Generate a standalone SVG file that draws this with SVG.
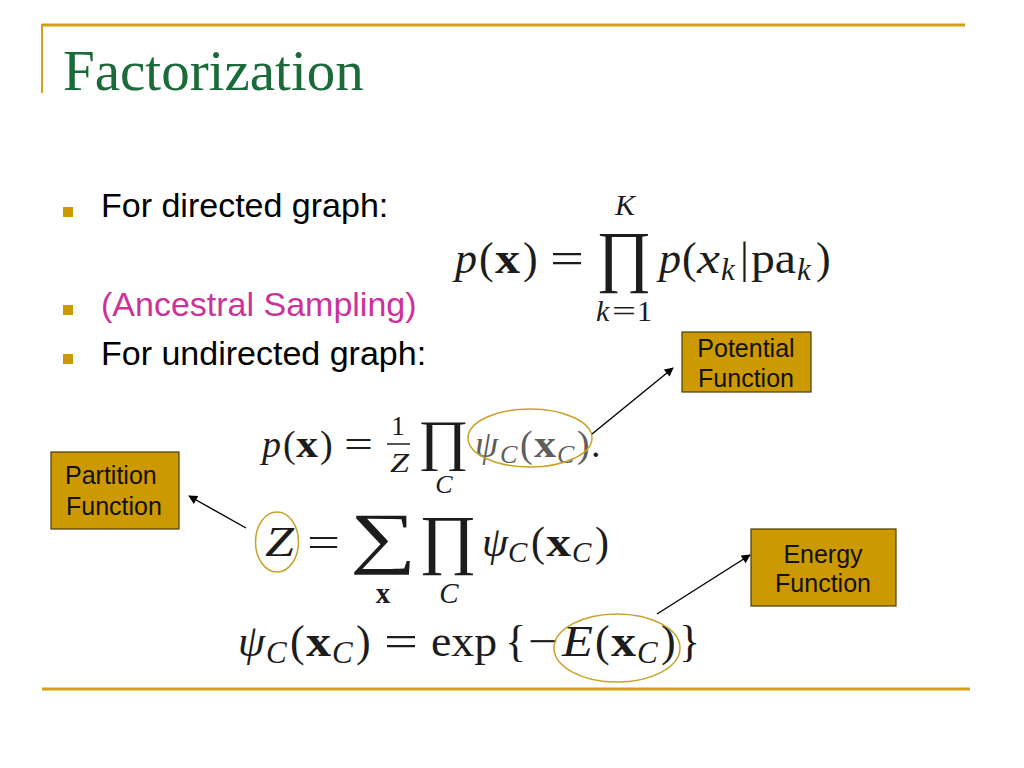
<svg xmlns="http://www.w3.org/2000/svg" width="1024" height="768" viewBox="0 0 1024 768">
<defs>
<style>
.rule{stroke:#D4A017;stroke-width:3;fill:none}
.bul{fill:#CC9900}
.btxt{font-family:"Liberation Sans",Arial,sans-serif;font-size:34px;fill:#000}
.pink{fill:#CC3399}
.box{fill:#CC9900;stroke:#4a3b00;stroke-width:1.2}
.lbl{font-family:"Liberation Sans",Arial,sans-serif;font-size:25px;fill:#111}
.m{font-family:"Liberation Serif","Times New Roman",serif;fill:#1c1c1c}
.i{font-style:italic}
.b{font-weight:bold}
.gray{fill:#5e5e5e}
.ring{fill:none;stroke:#C9A227;stroke-width:1.5}
.conn{stroke:#000;stroke-width:1.4;fill:none;marker-end:url(#ah)}
</style>
<marker id="ah" viewBox="0 0 10 10" refX="9" refY="5" markerWidth="10" markerHeight="9" orient="auto" markerUnits="userSpaceOnUse">
<path d="M0,0 L10,5 L0,10 z" fill="#000"/>
</marker>
</defs>
<rect width="1024" height="768" fill="#fff"/>

<g id="frame">
<line class="rule" x1="42" y1="25" x2="965" y2="25"/>
<line x1="42" y1="24" x2="42" y2="93" stroke="#D4A017" stroke-width="2"/>
<line class="rule" x1="42" y1="689" x2="970" y2="689"/>
</g>

<g id="title">
<text x="63" y="90" font-family="'Liberation Serif','Times New Roman',serif" font-size="57" fill="#1B6B3A">Factorization</text>
</g>

<g id="bullets">
<rect class="bul" x="63" y="207" width="10" height="10"/>
<text class="btxt" x="101" y="217">For directed graph:</text>
<rect class="bul" x="63" y="305" width="10" height="10"/>
<text class="btxt pink" x="101" y="316">(Ancestral Sampling)</text>
<rect class="bul" x="63" y="354" width="10" height="10"/>
<text class="btxt" x="101" y="365">For undirected graph:</text>
</g>

<g id="formula-directed">
<text class="m i" x="455" y="273" font-size="44">p</text>
<text class="m" x="479" y="273" font-size="44">(</text>
<text class="m b" x="495" y="273" font-size="44" textLength="25" lengthAdjust="spacingAndGlyphs">x</text>
<text class="m" x="523" y="273" font-size="44">)</text>
<text class="m" x="550" y="273" font-size="44" textLength="34" lengthAdjust="spacingAndGlyphs">=</text>
<text class="m" transform="translate(596,279) scale(1.2,1.22)" font-size="56">∏</text>
<text class="m i" x="625" y="215" font-size="30" text-anchor="middle">K</text>
<text class="m i" x="596" y="321" font-size="30">k</text>
<text class="m" x="612" y="321" font-size="30" textLength="24" lengthAdjust="spacingAndGlyphs">=</text>
<text class="m" x="637" y="321" font-size="30">1</text>
<text class="m i" x="659" y="273" font-size="44">p</text>
<text class="m" x="682" y="273" font-size="44">(</text>
<text class="m i" x="697" y="273" font-size="44" textLength="23" lengthAdjust="spacingAndGlyphs">x</text>
<text class="m i" x="721" y="280" font-size="31">k</text>
<text class="m" x="740" y="273" font-size="44">|</text>
<text class="m" x="751" y="273" font-size="44" textLength="45" lengthAdjust="spacingAndGlyphs">pa</text>
<text class="m i" x="797" y="280" font-size="31">k</text>
<text class="m" x="816" y="273" font-size="44">)</text>
</g>

<g id="formula-undirected">
<text class="m i" x="262" y="457" font-size="38">p</text>
<text class="m" x="283" y="457" font-size="38">(</text>
<text class="m b" x="296" y="457" font-size="38" textLength="22" lengthAdjust="spacingAndGlyphs">x</text>
<text class="m" x="320" y="457" font-size="38">)</text>
<text class="m" x="344" y="457" font-size="38" textLength="29" lengthAdjust="spacingAndGlyphs">=</text>
<text class="m" x="398" y="435" font-size="27" text-anchor="middle">1</text>
<line x1="387" y1="444" x2="410" y2="444" stroke="#1c1c1c" stroke-width="1.5"/>
<text class="m i" x="390" y="472" font-size="27" textLength="19" lengthAdjust="spacingAndGlyphs">Z</text>
<text class="m" transform="translate(418,459) scale(1.1,1.0)" font-size="56">∏</text>
<text class="m i" x="444" y="493" font-size="26" text-anchor="middle">C</text>
<text class="m i gray" x="475" y="457" font-size="38" textLength="23" lengthAdjust="spacingAndGlyphs">ψ</text>
<text class="m i gray" x="500" y="463" font-size="26">C</text>
<text class="m gray" x="520" y="457" font-size="38">(</text>
<text class="m b gray" x="534" y="457" font-size="38" textLength="22" lengthAdjust="spacingAndGlyphs">x</text>
<text class="m i gray" x="557" y="463" font-size="26">C</text>
<text class="m gray" x="577" y="457" font-size="38">)</text>
<text class="m" x="591" y="457" font-size="38">.</text>
</g>

<g id="formula-partition">
<text class="m i" x="265" y="556" font-size="42" textLength="29" lengthAdjust="spacingAndGlyphs">Z</text>
<text class="m" x="307" y="556" font-size="42" textLength="33" lengthAdjust="spacingAndGlyphs">=</text>
<text class="m" transform="translate(350,560) scale(1.55,1.13)" font-size="60">∑</text>
<text class="m" transform="translate(419,561) scale(1.25,1.18)" font-size="56">∏</text>
<text class="m b" x="383" y="603" font-size="29" text-anchor="middle">x</text>
<text class="m i" x="449" y="603" font-size="29" text-anchor="middle">C</text>
<text class="m i" x="482" y="556" font-size="42" textLength="26" lengthAdjust="spacingAndGlyphs">ψ</text>
<text class="m i" x="508" y="562" font-size="29">C</text>
<text class="m" x="531" y="556" font-size="42">(</text>
<text class="m b" x="546" y="556" font-size="42" textLength="25" lengthAdjust="spacingAndGlyphs">x</text>
<text class="m i" x="572" y="562" font-size="29">C</text>
<text class="m" x="595" y="556" font-size="42">)</text>
</g>

<g id="formula-energy">
<text class="m i" x="238" y="656" font-size="44" textLength="27" lengthAdjust="spacingAndGlyphs">ψ</text>
<text class="m i" x="266" y="663" font-size="31">C</text>
<text class="m" x="290" y="656" font-size="44">(</text>
<text class="m b" x="306" y="656" font-size="44" textLength="25" lengthAdjust="spacingAndGlyphs">x</text>
<text class="m i" x="332" y="663" font-size="31">C</text>
<text class="m" x="356" y="656" font-size="44">)</text>
<text class="m" x="384" y="656" font-size="44" textLength="34" lengthAdjust="spacingAndGlyphs">=</text>
<text class="m" x="431" y="656" font-size="44" textLength="66" lengthAdjust="spacingAndGlyphs">exp</text>
<text class="m" x="505" y="656" font-size="44">{</text>
<text class="m" x="528" y="656" font-size="44" textLength="31" lengthAdjust="spacingAndGlyphs">−</text>
<text class="m i" x="562" y="656" font-size="44" textLength="31" lengthAdjust="spacingAndGlyphs">E</text>
<text class="m" x="595" y="656" font-size="44">(</text>
<text class="m b" x="611" y="656" font-size="44" textLength="25" lengthAdjust="spacingAndGlyphs">x</text>
<text class="m i" x="637" y="663" font-size="31">C</text>
<text class="m" x="661" y="656" font-size="44">)</text>
<text class="m" x="679" y="656" font-size="44">}</text>
</g>

<g id="highlights">
<ellipse id="ring-psi" class="ring" cx="530" cy="438" rx="62" ry="29"/>
<ellipse id="ring-z" class="ring" cx="277" cy="542" rx="21.5" ry="30"/>
<ellipse id="ring-e" class="ring" cx="617" cy="648" rx="63" ry="34"/>
</g>

<g id="box-partition">
<rect class="box" x="51" y="452" width="128" height="77"/>
<text class="lbl" x="65" y="484">Partition</text>
<text class="lbl" x="66" y="515">Function</text>
</g>

<g id="box-potential">
<rect class="box" x="682" y="332" width="129" height="60"/>
<text class="lbl" x="746" y="357" text-anchor="middle">Potential</text>
<text class="lbl" x="746" y="387" text-anchor="middle">Function</text>
</g>

<g id="box-energy">
<rect class="box" x="751" y="529" width="145" height="77"/>
<text class="lbl" x="823" y="563" text-anchor="middle">Energy</text>
<text class="lbl" x="823" y="592" text-anchor="middle">Function</text>
</g>

<g id="connectors">
<line class="conn" x1="246" y1="528" x2="189" y2="496"/>
<line class="conn" x1="592" y1="434" x2="673" y2="368"/>
<line class="conn" x1="657" y1="614" x2="750" y2="555"/>
</g>
</svg>
